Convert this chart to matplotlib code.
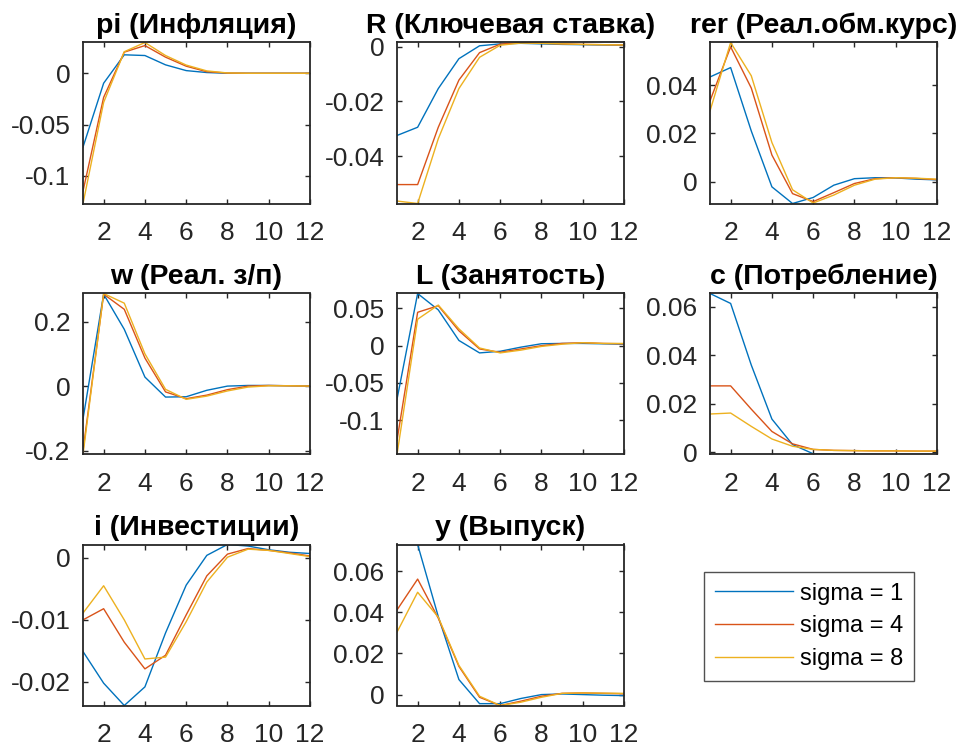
import numpy as np
import matplotlib
matplotlib.use("Agg")
import matplotlib.pyplot as plt
from matplotlib.ticker import FuncFormatter

plt.rcParams['font.family'] = ['Liberation Sans', 'DejaVu Sans']

# Periods
t = np.arange(1, 13)

# Impulse responses: (sigma=1, sigma=4, sigma=8)
pi_s1 = [-0.072, -0.0097, 0.018, 0.0173, 0.0082, 0.0026, 0.0007, 0.0, 0.0, 0.0, 0.0, 0.0]
pi_s4 = [-0.115, -0.0235, 0.0206, 0.027, 0.0157, 0.0069, 0.0015, 0.0002, 0.0, 0.0, 0.0, 0.0]
pi_s8 = [-0.127, -0.0284, 0.021, 0.030, 0.0173, 0.008, 0.0023, 0.0003, 0.0, 0.0, 0.0, 0.0]

R_s1 = [-0.0324, -0.0294, -0.0153, -0.0044, 0.0003, 0.001, 0.0012, 0.001, 0.0008, 0.0007, 0.0006, 0.0005]
R_s4 = [-0.0503, -0.0503, -0.0294, -0.0122, -0.0022, 0.0009, 0.0015, 0.0012, 0.001, 0.0008, 0.0007, 0.0006]
R_s8 = [-0.0563, -0.0572, -0.0336, -0.0153, -0.0039, 0.0005, 0.0013, 0.0012, 0.001, 0.0008, 0.0007, 0.0006]

rer_s1 = [0.0434, 0.0473, 0.021, -0.0022, -0.0091, -0.0066, -0.0015, 0.0012, 0.0016, 0.0015, 0.001, 0.0007]
rer_s4 = [0.0335, 0.0559, 0.0388, 0.011, -0.005, -0.0083, -0.0046, -0.0008, 0.0012, 0.0016, 0.0013, 0.0008]
rer_s8 = [0.0293, 0.0577, 0.0439, 0.0162, -0.0034, -0.0089, -0.0056, -0.0015, 0.001, 0.0016, 0.0014, 0.001]

w_s1 = [-0.102, 0.285, 0.176, 0.028, -0.034, -0.033, -0.013, 0.0, 0.002, 0.002, 0.001, 0.0]
w_s4 = [-0.20, 0.285, 0.238, 0.087, -0.018, -0.039, -0.028, -0.011, 0.0, 0.002, 0.001, 0.0]
w_s8 = [-0.212, 0.287, 0.257, 0.10, -0.010, -0.041, -0.031, -0.015, -0.003, 0.001, 0.001, 0.0]

L_s1 = [-0.072, 0.070, 0.048, 0.007, -0.0097, -0.0075, -0.002, 0.0026, 0.003, 0.003, 0.0025, 0.002]
L_s4 = [-0.127, 0.0448, 0.0536, 0.020, -0.0044, -0.0089, -0.0044, 0.0, 0.003, 0.004, 0.003, 0.0025]
L_s8 = [-0.146, 0.0355, 0.0545, 0.0226, -0.0031, -0.0097, -0.006, -0.001, 0.002, 0.004, 0.003, 0.003]

c_s1 = [0.0655, 0.0614, 0.036, 0.0137, 0.0032, -0.0006, -0.0008, -0.0009, -0.0009, -0.0009, -0.0009, -0.0009]
c_s4 = [0.0274, 0.0274, 0.0178, 0.0086, 0.0035, 0.0012, 0.0008, 0.0007, 0.0006, 0.0006, 0.0005, 0.0005]
c_s8 = [0.0158, 0.0162, 0.0107, 0.0055, 0.0025, 0.0012, 0.0008, 0.0007, 0.0006, 0.0006, 0.0005, 0.0005]

i_s1 = [-0.0151, -0.0202, -0.0238, -0.0208, -0.0121, -0.0044, 0.0004, 0.00215, 0.0019, 0.0013, 0.0009, 0.0007]
i_s4 = [-0.010, -0.0082, -0.0136, -0.0179, -0.0157, -0.0092, -0.0029, 0.0006, 0.0015, 0.0012, 0.0008, 0.0003]
i_s8 = [-0.0089, -0.0045, -0.010, -0.0163, -0.016, -0.0103, -0.0039, 0.0001, 0.0014, 0.0012, 0.0007, 0.0002]

y_s1 = [0.0729, 0.0729, 0.0379, 0.0073, -0.0044, -0.0044, -0.0019, 0.0, 0.0003, 0.0, -0.0003, -0.0005]
y_s4 = [0.0411, 0.0561, 0.0371, 0.0137, -0.0013, -0.0053, -0.0032, -0.0008, 0.0006, 0.0008, 0.0006, 0.0004]
y_s8 = [0.0303, 0.0497, 0.0376, 0.0142, -0.0008, -0.0053, -0.0037, -0.0013, 0.0006, 0.0008, 0.0007, 0.0006]

titles = ['pi (Инфляция)', 'R (Ключевая ставка)', 'rer (Реал.обм.курс)',
          'w (Реал. з/п)', 'L (Занятость)', 'c (Потребление)',
          'i (Инвестиции)', 'y (Выпуск)']
series = [(pi_s1, pi_s4, pi_s8), (R_s1, R_s4, R_s8), (rer_s1, rer_s4, rer_s8),
          (w_s1, w_s4, w_s8), (L_s1, L_s4, L_s8), (c_s1, c_s4, c_s8),
          (i_s1, i_s4, i_s8), (y_s1, y_s4, y_s8)]
yticks = [[-0.1, -0.05, 0], [-0.04, -0.02, 0], [0, 0.02, 0.04],
          [-0.2, 0, 0.2], [-0.1, -0.05, 0, 0.05], [0, 0.02, 0.04, 0.06],
          [-0.02, -0.01, 0], [0, 0.02, 0.04, 0.06]]
labels = ['sigma = 1', 'sigma = 4', 'sigma = 8']
colors = ['#0072BD', '#D95319', '#EDB120']

W, H = 959, 749
fig = plt.figure(figsize=(W / 100, H / 100), dpi=100)

col_left = [83, 397, 710]
row_top = [42.5, 293.5, 544.5]
ax_w, ax_h = 227, 161

fmt = FuncFormatter(lambda v, p: '%g' % v)
dark = '#262626'

lines = []
for k in range(8):
    r, c = divmod(k, 3)
    ax = fig.add_axes([col_left[c] / W, 1 - (row_top[r] + ax_h) / H, ax_w / W, ax_h / H])
    data = series[k]
    for j in range(3):
        ln, = ax.plot(t, data[j], color=colors[j], lw=1.0, label=labels[j])
        if k == 0:
            lines.append(ln)
    allv = np.concatenate([np.asarray(d) for d in data])
    ax.set_xlim(1, 12)
    ax.set_ylim(allv.min(), allv.max())
    ax.set_xticks([2, 4, 6, 8, 10, 12])
    ax.set_yticks(yticks[k])
    ax.yaxis.set_major_formatter(fmt)
    ax.tick_params(direction='in', top=True, right=True, length=3.5, width=1.0,
                   colors=dark, labelsize=19)
    ax.tick_params(axis='x', pad=12.5)
    ax.tick_params(axis='y', pad=9)
    for s in ax.spines.values():
        s.set_linewidth(1.3)
        s.set_color(dark)
    ax.set_title(titles[k], fontsize=20.5, fontweight='bold', pad=6.5)

fig.legend(lines, labels, loc='upper left', bbox_to_anchor=(704 / W, 1 - 572 / H),
           fontsize=17, frameon=True, fancybox=False, edgecolor=dark,
           handlelength=3.3, handletextpad=0.3, labelspacing=0.45,
           borderpad=0.45, borderaxespad=0)

fig.savefig('out.png', dpi=100)
